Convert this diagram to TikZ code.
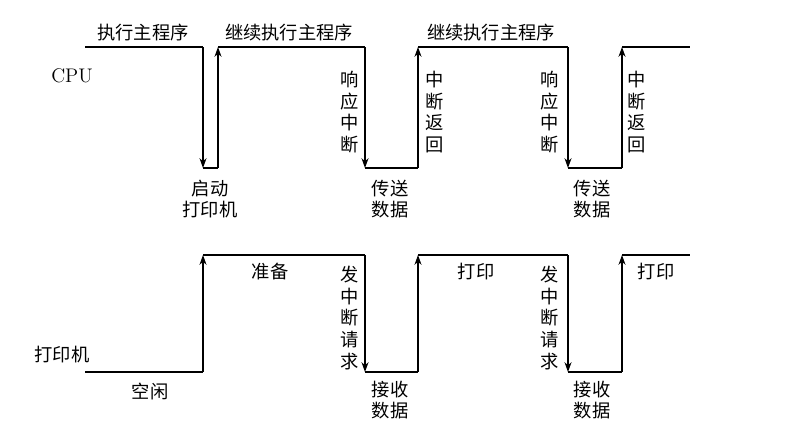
\documentclass[tikz,border=0pt]{standalone}
\usepackage{fontspec}
\newfontfamily\cjk{Noto Sans CJK SC}
\usetikzlibrary{arrows.meta}
\tikzset{
  wave/.style={line width=1pt, color=black},
  edge_up/.style={wave, -{Stealth[length=7pt, width=5pt]}},
  edge_down/.style={wave, -{Stealth[length=7pt, width=5pt]}},
  label_h/.style={font=\cjk\fontsize{13}{15}\selectfont, inner sep=1pt},
  label_v/.style={font=\cjk\fontsize{13}{15.5}\selectfont, align=center, inner sep=1pt},
  label_tag/.style={font=\fontsize{14}{16}\selectfont, inner sep=1pt}
}
\begin{document}
\begin{tikzpicture}[x=0.025cm, y=-0.025cm]
\useasboundingbox[fill=white] (0,0) rectangle (808,436);
% CPU waveform
\foreach \name/\px/\py in {c0/85/47, c1/203/47, c2/203/168, c3/218/168, c4/218/47,
  c5/365/47, c6/365/168, c7/418/168, c8/418/47, c9/568/47, c10/568/168,
  c11/622/168, c12/622/47, c13/690/47}
  \coordinate (\name) at (\px,\py);
\draw[wave] (c0) -- (c1) (c2) -- (c3) (c4) -- (c5) (c6) -- (c7) (c8) -- (c9) (c10) -- (c11) (c12) -- (c13);
\draw[edge_down] (c1) -- (c2);
\draw[edge_up] (c3) -- (c4);
\draw[edge_down] (c5) -- (c6);
\draw[edge_up] (c7) -- (c8);
\draw[edge_down] (c9) -- (c10);
\draw[edge_up] (c11) -- (c12);
% printer waveform
\foreach \name/\px/\py in {p0/85/372, p1/203/372, p2/203/255, p3/365/255, p4/365/372,
  p5/418/372, p6/418/255, p7/568/255, p8/568/372, p9/622/372, p10/622/255, p11/690/255}
  \coordinate (\name) at (\px,\py);
\draw[wave] (p0) -- (p1) (p2) -- (p3) (p4) -- (p5) (p6) -- (p7) (p8) -- (p9) (p10) -- (p11);
\draw[edge_up] (p1) -- (p2);
\draw[edge_down] (p3) -- (p4);
\draw[edge_up] (p5) -- (p6);
\draw[edge_down] (p7) -- (p8);
\draw[edge_up] (p9) -- (p10);
% CPU labels
\node[label_tag] (cpu_tag) at (72,76) {CPU};
\node[label_h] (run_main) at (143,33) {执行主程序};
\node[label_h] (cont_main_a) at (289,33) {继续执行主程序};
\node[label_h] (cont_main_b) at (491,33) {继续执行主程序};
\node[label_v] (ack_a) at (350,112) {响\\应\\中\\断};
\node[label_v] (ret_a) at (435,112) {中\\断\\返\\回};
\node[label_v] (ack_b) at (550,112) {响\\应\\中\\断};
\node[label_v] (ret_b) at (637,112) {中\\断\\返\\回};
\node[label_v] (start_prn) at (210,199) {启动\\打印机};
\node[label_v] (send_a) at (390,199) {传送\\数据};
\node[label_v] (send_b) at (592,199) {传送\\数据};
% printer labels
\node[label_h] (prn_tag) at (62,355) {打印机};
\node[label_h] (idle) at (150,391) {空闲};
\node[label_h] (ready) at (270,272) {准备};
\node[label_h] (print_a) at (476,272) {打印};
\node[label_h] (print_b) at (656,272) {打印};
\node[label_v] (irq_a) at (350,318) {发\\中\\断\\请\\求};
\node[label_v] (irq_b) at (550,318) {发\\中\\断\\请\\求};
\node[label_v] (recv_a) at (390,400) {接收\\数据};
\node[label_v] (recv_b) at (592,400) {接收\\数据};
\end{tikzpicture}
\end{document}
